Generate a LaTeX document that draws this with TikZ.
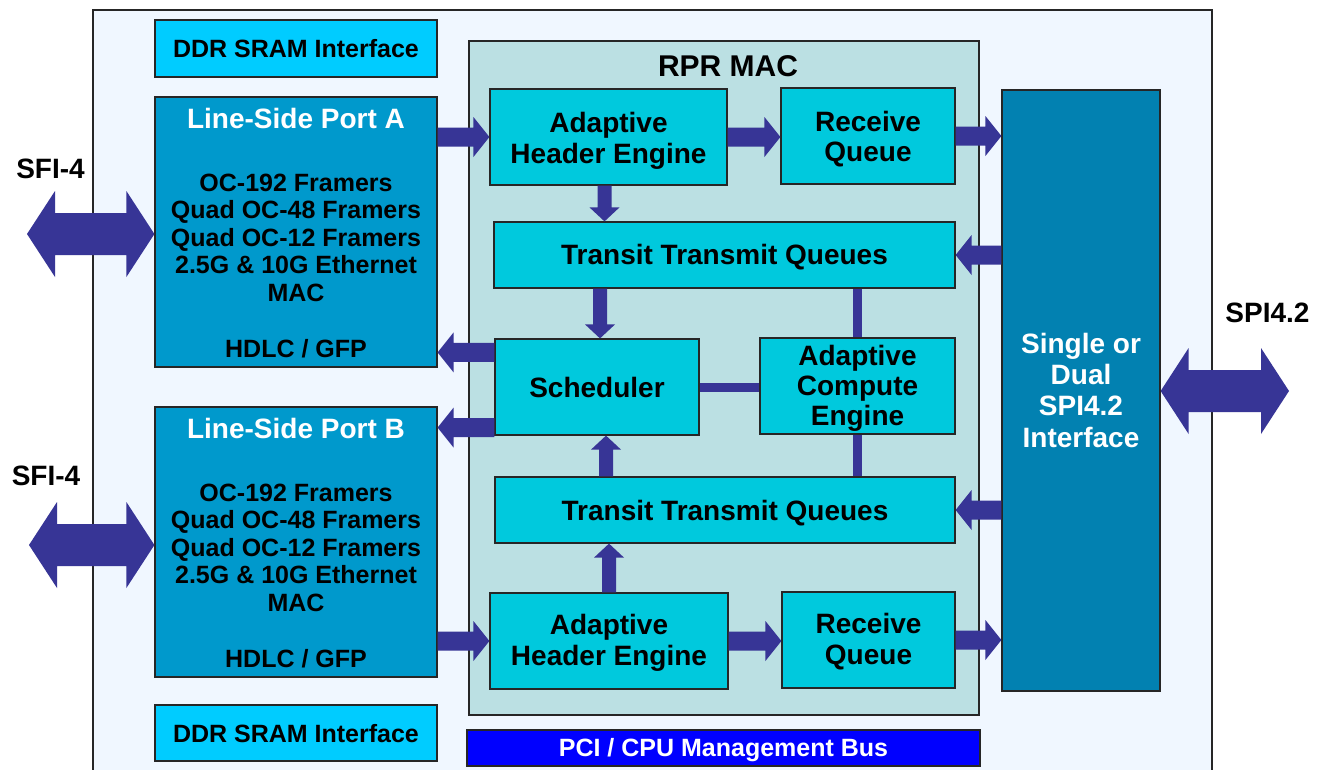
\documentclass[tikz,border=0pt]{standalone}
\usepackage{fontspec}
\setmainfont{Liberation Sans}
\usetikzlibrary{calc}
\definecolor{outerbg}{HTML}{F0F7FF}
\definecolor{ddrc}{HTML}{00CCFF}
\definecolor{portc}{HTML}{0099CC}
\definecolor{rprc}{HTML}{BBE0E3}
\definecolor{cyanbox}{HTML}{00C9DD}
\definecolor{spic}{HTML}{0281B1}
\definecolor{pcic}{HTML}{0000FF}
\definecolor{arrc}{HTML}{373596}
\newcommand\blkH[3]{\fill[arrc] ([yshift=9.5pt]#1) -- ([xshift=#3,yshift=9.5pt]#2) -- ([xshift=#3,yshift=20pt]#2) -- (#2) -- ([xshift=#3,yshift=-20pt]#2) -- ([xshift=#3,yshift=-9.5pt]#2) -- ([yshift=-9.5pt]#1) -- cycle;}
\newcommand\blkV[3]{\fill[arrc] ([xshift=7pt]#1) -- ([xshift=7pt,yshift=#3]#2) -- ([xshift=15pt,yshift=#3]#2) -- (#2) -- ([xshift=-15pt,yshift=#3]#2) -- ([xshift=-7pt,yshift=#3]#2) -- ([xshift=-7pt]#1) -- cycle;}
\newcommand\blkD[2]{\fill[arrc] (#1) -- ([xshift=28pt,yshift=43pt]#1) -- ([xshift=28pt,yshift=21pt]#1) -- ([xshift=-28pt,yshift=21pt]#2) -- ([xshift=-28pt,yshift=43pt]#2) -- (#2) -- ([xshift=-28pt,yshift=-43pt]#2) -- ([xshift=-28pt,yshift=-21pt]#2) -- ([xshift=28pt,yshift=-21pt]#1) -- ([xshift=28pt,yshift=-43pt]#1) -- cycle;}
\begin{document}
\begin{tikzpicture}[x=1pt,y=-1pt,
  box/.style={draw=black!85, line width=1.2pt, inner sep=0pt},
  tbig/.style={font=\fontsize{28}{30}\selectfont\bfseries, anchor=base, inner sep=0pt},
  tsmall/.style={font=\fontsize{25}{27}\selectfont\bfseries, anchor=base, inner sep=0pt},
  conn/.style={draw=arrc, line width=9pt}]
\useasboundingbox (0,0) rectangle (1324,769);
\clip (0,0) rectangle (1324,769);
\fill[white] (0,0) rectangle (1324,769);
% outer chip
\node[draw=black!85, line width=1.5pt, fill=outerbg, inner sep=0pt, minimum width=1119pt, minimum height=800pt] (outer) at (652.5,410) {};
% left column
\node[box, fill=ddrc, minimum width=282pt, minimum height=57pt] (ddrA) at (296,48.5) {};
\node[box, fill=portc, minimum width=282pt, minimum height=270pt] (pA) at (296,232) {};
\node[box, fill=portc, minimum width=282pt, minimum height=270pt] (pB) at (296,542) {};
\node[box, fill=ddrc, minimum width=282pt, minimum height=56pt] (ddrB) at (296,733) {};
% RPR MAC
\node[box, fill=rprc, minimum width=510pt, minimum height=674pt] (rpr) at (724,378) {};
\node[box, fill=cyanbox, minimum width=237pt, minimum height=96pt] (ahe1) at (608.5,137) {};
\node[box, fill=cyanbox, minimum width=174pt, minimum height=96pt] (rq1) at (868,136) {};
\node[box, fill=cyanbox, minimum width=461pt, minimum height=66pt] (ttq1) at (724.5,255) {};
\node[box, fill=cyanbox, minimum width=204pt, minimum height=96pt] (sch) at (597,387) {};
\node[box, fill=cyanbox, minimum width=195pt, minimum height=96pt] (ace) at (857.5,386) {};
\node[box, fill=cyanbox, minimum width=460pt, minimum height=66pt] (ttq2) at (725,510) {};
\node[box, fill=cyanbox, minimum width=238pt, minimum height=96pt] (ahe2) at (609,641) {};
\node[box, fill=cyanbox, minimum width=173pt, minimum height=96pt] (rq2) at (868.5,640) {};
% SPI and PCI
\node[box, fill=spic, minimum width=158pt, minimum height=601pt] (spi) at (1081,390.5) {};
\node[box, fill=pcic, minimum width=513pt, minimum height=36pt] (pci) at (723.5,748) {};
% texts
\node[tsmall] (ddrAt) at (296,57) {DDR SRAM Interface};
\node[tsmall] (ddrBt) at (296,742) {DDR SRAM Interface};
\node[tbig, text=white] (pAt) at (296,128) {Line-Side Port A};
\node[tbig, text=white] (pBt) at (296,438) {Line-Side Port B};
\foreach \t [count=\i] in {OC-192 Framers, Quad OC-48 Framers, Quad OC-12 Framers, 2.5G \& 10G Ethernet, MAC}{
  \node[tsmall] (pAl\i) at (296,{191+27.5*(\i-1)}) {\t};
  \node[tsmall] (pBl\i) at (296,{501+27.5*(\i-1)}) {\t};
}
\node[tsmall] (pAh) at (296,357) {HDLC / GFP};
\node[tsmall] (pBh) at (296,667) {HDLC / GFP};
\node[font=\fontsize{30}{32}\selectfont\bfseries, anchor=base, inner sep=0pt] (rprt) at (728,76) {RPR MAC};
\node[tbig] (ahe1a) at (608.5,132.5) {Adaptive};
\node[tbig] (ahe1b) at (608.5,163) {Header Engine};
\node[tbig] (rq1a) at (868,131) {Receive};
\node[tbig] (rq1b) at (868,161.5) {Queue};
\node[tbig] (ttq1t) at (724.5,264) {Transit Transmit Queues};
\node[tbig] (scht) at (597,397) {Scheduler};
\node[tbig] (acea) at (857.5,365) {Adaptive};
\node[tbig] (aceb) at (857.5,395) {Compute};
\node[tbig] (acec) at (857.5,425) {Engine};
\node[tbig] (ttq2t) at (725,520) {Transit Transmit Queues};
\node[tbig] (ahe2a) at (609,634) {Adaptive};
\node[tbig] (ahe2b) at (609,665) {Header Engine};
\node[tbig] (rq2a) at (868.5,633) {Receive};
\node[tbig] (rq2b) at (868.5,664) {Queue};
\node[tbig, text=white] (spia) at (1081,353) {Single or};
\node[tbig, text=white] (spib) at (1081,384) {Dual};
\node[tbig, text=white] (spic) at (1081,415) {SPI4.2};
\node[tbig, text=white] (spid) at (1081,447) {Interface};
\node[tsmall, text=white] (pcit) at (723.5,756) {PCI / CPU Management Bus};
\node[tbig] (sfiAt) at (50.5,178) {SFI-4};
\node[tbig] (sfiBt) at (46,485) {SFI-4};
\node[tbig] (spi42t) at (1267.5,322) {SPI4.2};
% connectors
\coordinate (a1s) at (pA.east |- ahe1.west);
\blkH{a1s}{ahe1.west}{-16pt}
\coordinate (a2e) at (rq1.west |- ahe1.east);
\blkH{ahe1.east}{a2e}{-16pt}
\coordinate (a3e) at (spi.west |- rq1.east);
\blkH{rq1.east}{a3e}{-16pt}
\coordinate (a4s) at ([xshift=-4pt]ahe1.south);
\coordinate (a4e) at (a4s |- ttq1.north);
\blkV{a4s}{a4e}{14pt}
\coordinate (a5s) at (spi.west |- ttq1.east);
\blkH{a5s}{ttq1.east}{16pt}
\coordinate (a6e) at ([xshift=3pt]sch.north);
\coordinate (a6s) at (a6e |- ttq1.south);
\blkV{a6s}{a6e}{14pt}
\draw[conn] (ace.north |- ttq1.south) -- (ace.north);
\draw[conn] (sch.east) -- (sch.east -| ace.west);
\draw[conn] (ace.south) -- (ace.south |- ttq2.north);
\coordinate (a10s) at ([yshift=-14pt]sch.north west);
\coordinate (a10e) at (a10s -| pA.east);
\blkH{a10s}{a10e}{16pt}
\coordinate (a11s) at ([yshift=8pt]sch.south west);
\coordinate (a11e) at (a11s -| pB.east);
\blkH{a11s}{a11e}{16pt}
\coordinate (a12e) at ([xshift=9pt]sch.south);
\coordinate (a12s) at (a12e |- ttq2.north);
\blkV{a12s}{a12e}{-14pt}
\coordinate (a13e) at (ahe2.north |- ttq2.south);
\blkV{ahe2.north}{a13e}{-14pt}
\coordinate (a14s) at (spi.west |- ttq2.east);
\blkH{a14s}{ttq2.east}{16pt}
\coordinate (a15s) at (pB.east |- ahe2.west);
\blkH{a15s}{ahe2.west}{-16pt}
\coordinate (a16e) at (rq2.west |- ahe2.east);
\blkH{ahe2.east}{a16e}{-16pt}
\coordinate (a17e) at (spi.west |- rq2.east);
\blkH{rq2.east}{a17e}{-16pt}
% double arrows
\coordinate (sfiAL) at (27,234);
\coordinate (sfiAR) at (sfiAL -| pA.west);
\blkD{sfiAL}{sfiAR}
\coordinate (sfiBL) at (29,545);
\coordinate (sfiBR) at (sfiBL -| pB.west);
\blkD{sfiBL}{sfiBR}
\coordinate (spiR) at (1289,391);
\coordinate (spiL) at (spiR -| spi.east);
\blkD{spiL}{spiR}
\end{tikzpicture}
\end{document}
